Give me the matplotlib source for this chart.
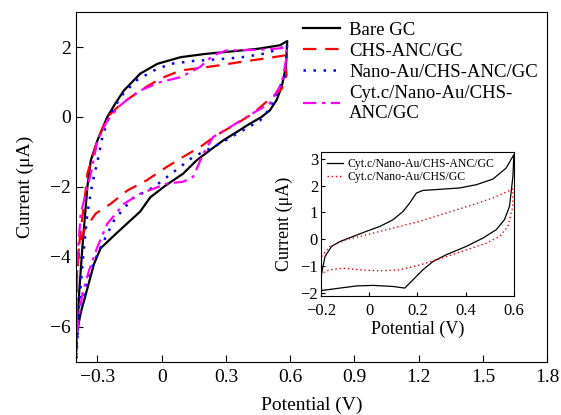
import matplotlib
matplotlib.use("Agg")
import matplotlib.pyplot as plt

plt.rcParams['font.family'] = ['Liberation Serif', 'DejaVu Serif']

# main CV curves (potential V, current uA), loop: anodic branch then cathodic branch
bare_x = [-0.40, -0.385, -0.37, -0.355, -0.347, -0.331, -0.30, -0.254, -0.215, -0.176, -0.10, -0.02,
          0.089, 0.20, 0.319, 0.45, 0.552, 0.586,
          0.58, 0.56, 0.536, 0.505, 0.466, 0.412, 0.35, 0.287, 0.225, 0.163, 0.10, 0.02, -0.054,
          -0.10, -0.207, -0.285, -0.316, -0.347, -0.378, -0.394, -0.40]
bare_y = [-6.7, -5.0, -3.7, -2.6, -2.0, -1.24, -0.67, 0.0, 0.4, 0.76, 1.24, 1.52,
          1.71, 1.80, 1.87, 1.95, 2.05, 2.17,
          1.43, 0.86, 0.48, 0.19, 0.0, -0.19, -0.43, -0.67, -0.95, -1.24, -1.62, -1.95, -2.3,
          -2.7, -3.3, -3.75, -4.2, -4.9, -5.6, -6.1, -6.7]

chs_x = [-0.398, -0.386, -0.378, -0.355, -0.347, -0.30, -0.254, -0.194, -0.10, -0.005, 0.089, 0.179,
         0.272, 0.365, 0.49, 0.575,
         0.583, 0.56, 0.505, 0.426, 0.35, 0.256, 0.179, 0.10, 0.023, -0.07, -0.16, -0.238,
         -0.308, -0.362, -0.386, -0.394, -0.40]
chs_y = [-4.9, -3.7, -3.24, -2.1, -1.62, -0.67, 0.0, 0.35, 0.76, 1.1, 1.33, 1.40,
         1.48, 1.57, 1.68, 1.76,
         1.2, 0.8, 0.52, 0.1, -0.19, -0.52, -0.86, -1.14, -1.43, -1.81, -2.1, -2.48,
         -2.76, -3.24, -3.71, -4.29, -4.95]

au_x = [-0.398, -0.386, -0.37, -0.347, -0.324, -0.292, -0.277, -0.241, -0.179, -0.117, -0.036, 0.042,
        0.148, 0.241, 0.365, 0.49, 0.568, 0.586,
        0.575, 0.552, 0.505, 0.459, 0.365, 0.272, 0.147, 0.06, -0.036, -0.137, -0.184, -0.222,
        -0.261, -0.292, -0.331, -0.362, -0.386, -0.397, -0.40]
au_y = [-6.9, -5.43, -4.19, -2.76, -1.9, -1.05, -0.57, 0.1, 0.67, 1.05, 1.33, 1.52,
        1.60, 1.64, 1.70, 1.82, 2.0, 2.1,
        1.2, 0.86, 0.24, -0.1, -0.43, -0.76, -1.14, -1.55, -2.0, -2.33, -2.67, -2.95,
        -3.43, -3.81, -4.38, -5.05, -5.62, -6.57, -7.0]

cyt_x = [-0.399, -0.394, -0.378, -0.331, -0.30, -0.254, -0.20, -0.16, -0.10, -0.005, 0.089, 0.179,
         0.24, 0.30, 0.45, 0.55, 0.583,
         0.583, 0.56, 0.505, 0.396, 0.319, 0.24, 0.194, 0.147, 0.10, 0.026, -0.10, -0.176,
         -0.254, -0.30, -0.339, -0.37, -0.39, -0.397, -0.40]
cyt_y = [-6.6, -4.1, -2.76, -1.62, -0.67, -0.1, 0.3, 0.5, 0.76, 1.0, 1.14, 1.43,
         1.76, 1.90, 1.92, 1.96, 2.0,
         1.71, 0.96, 0.39, 0.0, -0.29, -0.57, -1.05, -1.71, -1.85, -1.9, -2.19, -2.48,
         -3.05, -3.71, -4.38, -5.05, -5.81, -6.38, -6.8]

# inset curves
in_anc_x = [-0.2, -0.197, -0.183, -0.156, -0.121, -0.066, -0.011, 0.044, 0.099, 0.141, 0.168, 0.196,
            0.223, 0.279, 0.375, 0.444, 0.513, 0.568, 0.6,
            0.596, 0.582, 0.561, 0.527, 0.472, 0.403, 0.32, 0.265, 0.223, 0.182, 0.148, 0.099,
            0.017, -0.052, -0.121, -0.197, -0.2]
in_anc_y = [-1.6, -1.26, -0.64, -0.26, -0.08, 0.11, 0.30, 0.48, 0.73, 1.04, 1.35, 1.72,
            1.82, 1.85, 1.91, 2.03, 2.24, 2.65, 3.15,
            2.34, 1.23, 0.73, 0.36, 0.05, -0.26, -0.57, -0.82, -1.13, -1.5, -1.81, -1.75,
            -1.71, -1.73, -1.81, -1.9, -1.6]

in_chs_x = [-0.197, -0.163, -0.094, -0.011, 0.099, 0.21, 0.32, 0.43, 0.513, 0.596,
            0.596, 0.575, 0.541, 0.486, 0.403, 0.32, 0.21, 0.127, 0.044, -0.039, -0.108,
            -0.163, -0.197]
in_chs_y = [-0.64, -0.26, -0.01, 0.17, 0.42, 0.67, 0.98, 1.29, 1.54, 1.87,
            1.23, 0.48, 0.11, -0.14, -0.39, -0.64, -0.95, -1.13, -1.17, -1.13, -1.07,
            -1.13, -1.26]

fig = plt.figure(figsize=(5.61, 4.15), dpi=100)
ax = fig.add_axes([0.1355, 0.128, 0.84, 0.843])

ax.plot(bare_x, bare_y, color='black', lw=1.6, label='Bare GC')
ax.plot(chs_x, chs_y, color='red', lw=1.6, ls=(0, (6, 4)), label='CHS-ANC/GC')
ax.plot(au_x, au_y, color='blue', lw=1.8, ls=(0, (1, 3)), label='Nano-Au/CHS-ANC/GC')
ax.plot(cyt_x, cyt_y, color='magenta', lw=1.6, ls=(0, (6, 2.5, 1.5, 2.5)),
        label='Cyt.c/Nano-Au/CHS-\nANC/GC')

ax.set_xlim(-0.4, 1.8)
ax.set_ylim(-7, 3)
ax.set_xticks([-0.3, 0, 0.3, 0.6, 0.9, 1.2, 1.5, 1.8])
ax.set_xticklabels(['−0.3', '0', '0.3', '0.6', '0.9', '1.2', '1.5', '1.8'])
ax.set_yticks([-6, -4, -2, 0, 2])
ax.tick_params(direction='in', length=5, labelsize=14)
ax.tick_params(axis='x', pad=5)
ax.set_xlabel('Potential (V)', fontsize=14, labelpad=8)
ax.set_ylabel('Current (μA)', fontsize=14, labelpad=12)
leg = ax.legend(loc='upper right', bbox_to_anchor=(1.0, 1.0), frameon=False, fontsize=13.5,
                labelspacing=0.22, handlelength=1.95, handletextpad=0.5, borderaxespad=0.1)
for t in leg.get_texts():
    t.set_linespacing(1.2)

ins = fig.add_axes([0.572, 0.287, 0.344, 0.347])
ins.plot(in_anc_x, in_anc_y, color='black', lw=0.9, label='Cyt.c/Nano-Au/CHS-ANC/GC')
ins.plot(in_chs_x, in_chs_y, color='red', lw=1.0, ls=(0, (1, 2)), label='Cyt.c/Nano-Au/CHS/GC')
ins.set_xlim(-0.2, 0.6)
ins.set_ylim(-2.1, 3.25)
ins.set_xticks([-0.2, 0, 0.2, 0.4, 0.6])
ins.set_xticklabels(['−0.2', '0', '0.2', '0.4', '0.6'])
ins.set_yticks([-2, -1, 0, 1, 2, 3])
ins.tick_params(direction='in', length=3, labelsize=12, pad=2)
ins.tick_params(axis='x', pad=5)
ins.set_xlabel('Potential (V)', fontsize=13, labelpad=1)
ins.set_ylabel('Current (μA)', fontsize=13, labelpad=5)
ins.legend(loc='upper left', frameon=False, fontsize=8.5, labelspacing=0.05,
           handlelength=1.3, handletextpad=0.4, borderaxespad=0.15)

fig.savefig('out.png', dpi=100)
